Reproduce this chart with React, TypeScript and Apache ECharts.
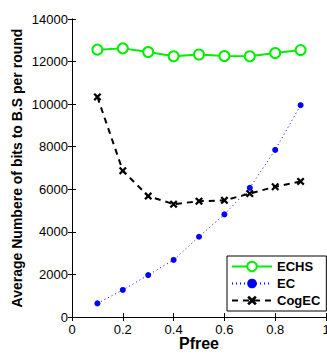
import React, { useEffect, useRef } from "react";
import * as echarts from "echarts";

const pfree = [0.1, 0.2, 0.3, 0.4, 0.5, 0.6, 0.7, 0.8, 0.9];
const echs = [12560, 12620, 12450, 12250, 12330, 12260, 12250, 12400, 12540];
const ec = [640, 1270, 1970, 2680, 3770, 4820, 6070, 7850, 9950];
const cogec = [10340, 6870, 5680, 5300, 5440, 5480, 5800, 6120, 6370];

const crossPath =
  "path://M0,2 L2,0 L5,3 L8,0 L10,2 L7,5 L10,8 L8,10 L5,7 L2,10 L0,8 L3,5 Z";

export default function App() {
  const ref = useRef<HTMLDivElement>(null);
  useEffect(() => {
    const chart = echarts.init(ref.current!, null, { renderer: "svg" });
    const font = "'Liberation Sans', Arial, Helvetica, sans-serif";
    const pair = (arr: number[]) => pfree.map((x, i) => [x, arr[i]]);
    chart.setOption({
      animation: false,
      backgroundColor: "#ffffff",
      textStyle: { fontFamily: font },
      grid: { left: 72, right: 1, top: 19, bottom: 37, outerBoundsMode: "none" },
      legend: {
        orient: "vertical",
        left: 227,
        top: 256,
        itemWidth: 40,
        itemHeight: 12,
        itemGap: 4,
        padding: [4, 6, 4, 4],
        borderColor: "#000",
        borderWidth: 1,
        backgroundColor: "#fff",
        textStyle: { fontFamily: font, fontSize: 13, fontWeight: "bold", color: "#000" },
        data: ["ECHS", "EC", "CogEC"],
      },
      xAxis: [
        {
          type: "value",
          min: 0,
          max: 1,
          interval: 0.2,
          name: "Pfree",
          nameLocation: "middle",
          nameGap: 18,
          nameMoveOverlap: false,
          nameTextStyle: { fontFamily: font, fontSize: 16, fontWeight: "bold", color: "#000" },
          axisLine: { lineStyle: { color: "#000", width: 1 } },
          axisTick: { inside: true, length: 4, lineStyle: { color: "#000" } },
          axisLabel: { fontFamily: font, fontSize: 13, color: "#000", margin: 6, formatter: (v: number) => String(v) },
          splitLine: { show: false },
        },
        {
          type: "value",
          position: "top",
          min: 0,
          max: 1,
          interval: 0.2,
          axisLine: { show: true, lineStyle: { color: "#000", width: 1 } },
          axisTick: { inside: true, length: 4, lineStyle: { color: "#000" } },
          axisLabel: { show: false },
          splitLine: { show: false },
        },
      ],
      yAxis: [
        {
          type: "value",
          min: 0,
          max: 14000,
          interval: 2000,
          name: "Average Numbere of bits to B.S per round",
          nameLocation: "middle",
          nameGap: 48,
          nameMoveOverlap: false,
          nameTextStyle: { fontFamily: font, fontSize: 14, fontWeight: "bold", color: "#000" },
          axisLine: { show: true, lineStyle: { color: "#000", width: 1 } },
          axisTick: { show: true, inside: true, length: 4, lineStyle: { color: "#000" } },
          axisLabel: { fontFamily: font, fontSize: 13, color: "#000", margin: 4, formatter: (v: number) => String(v) },
          splitLine: { show: false },
        },
        {
          type: "value",
          position: "right",
          min: 0,
          max: 14000,
          interval: 2000,
          axisLine: { show: true, lineStyle: { color: "#000", width: 1 } },
          axisTick: { show: true, inside: true, length: 4, lineStyle: { color: "#000" } },
          axisLabel: { show: false },
          splitLine: { show: false },
        },
      ],
      series: [
        {
          name: "ECHS",
          type: "line",
          data: pair(echs),
          color: "#00ee00",
          lineStyle: { color: "#00ee00", width: 2 },
          symbol: "circle",
          symbolSize: 10,
          itemStyle: { color: "#ffffff", borderColor: "#00ee00", borderWidth: 2 },
        },
        {
          name: "EC",
          type: "line",
          data: pair(ec),
          color: "#0000ff",
          lineStyle: { color: "#0000ff", width: 1, type: [1, 3] },
          symbol: "circle",
          symbolSize: 6,
          itemStyle: { color: "#0000ff", borderWidth: 0 },
        },
        {
          name: "CogEC",
          type: "line",
          data: pair(cogec),
          color: "#000000",
          lineStyle: { color: "#000000", width: 2, type: [6, 5] },
          symbol: crossPath,
          symbolSize: 8,
          itemStyle: { color: "#000000", borderWidth: 0 },
        },
      ],
    });
    return () => chart.dispose();
  }, []);
  return (
    <div
      ref={ref}
      style={{ position: "fixed", left: 0, top: 0, width: 327, height: 354 }}
    />
  );
}
